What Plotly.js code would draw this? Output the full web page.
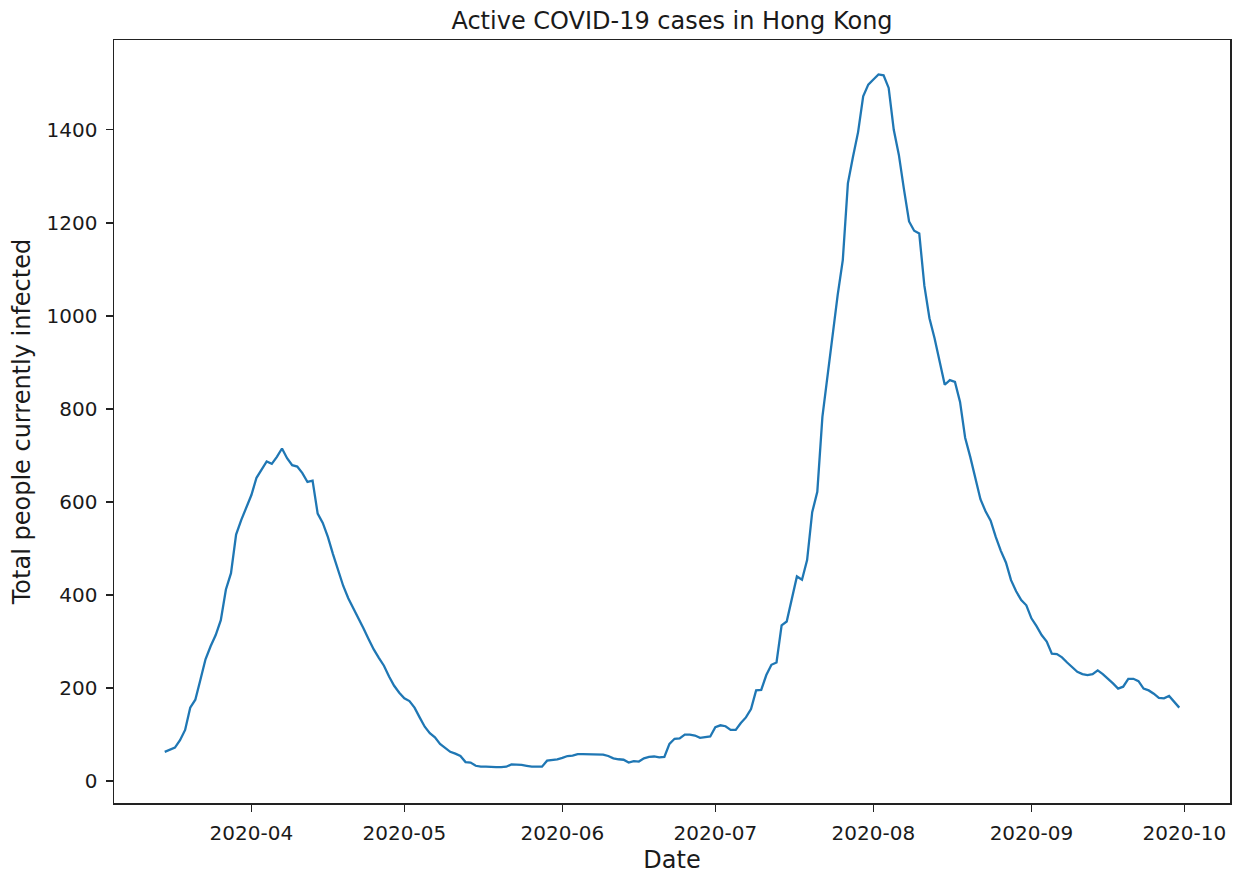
<!DOCTYPE html>
<html>
<head>
<meta charset="utf-8">
<script src="https://cdn.plot.ly/plotly-3.0.1.min.js"></script>
<style>
  html, body { margin: 0; padding: 0; background: #fff; }
  #chart { width: 1236px; height: 874px; }
</style>
</head>
<body>
<div id="chart"></div>
<script>
// Daily active cases, 2020-03-15 .. 2020-09-30
const startDate = "2020-03-15";
const activeCases = [
  63, 67, 72, 88, 110, 158, 175, 218, 262, 290, 314, 346, 412, 447, 530, 561, 588,
  615, 652, 670, 687, 682, 697, 715, 694, 679, 676, 662, 643, 646, 575, 555, 525, 488, 455, 420, 393, 372, 352, 328, 305, 283, 265, 248, 225, 205, 190,
  178, 172, 158, 137, 117, 103, 94, 80, 72, 63, 59, 54, 41, 40, 33, 31, 31, 30, 30, 30, 31, 36, 36, 35, 33, 31, 31, 31, 44, 45, 47,
  50, 54, 55, 58, 58, 58, 58, 58, 57, 54, 49, 47, 46, 40, 43, 42, 49, 52, 53, 51, 52, 80, 91, 92, 100, 100, 98, 93, 95, 96,
  116, 120, 118, 110, 110, 125, 137, 155, 195, 196, 228, 250, 255, 335, 343, 390, 440, 433, 475, 578, 622, 783, 870, 965, 1045, 1120, 1285, 1342, 1395, 1472, 1497,
  1508, 1519, 1517, 1490, 1400, 1346, 1272, 1203, 1183, 1177, 1065, 995, 952, 900, 852, 862, 858, 815, 738, 697, 648, 606, 580, 560, 525, 495, 470, 432, 408, 389, 378,
  350, 333, 314, 300, 274, 273, 266, 255, 245, 235, 230, 228, 230, 238, 230, 221, 210, 199, 203, 220, 220, 215, 199, 195, 188, 179, 178, 183, 170, 158
];
const tickVals = ["2020-04-01", "2020-05-01", "2020-06-01", "2020-07-01", "2020-08-01", "2020-09-01", "2020-10-01"];
const tickText = ["2020-04", "2020-05", "2020-06", "2020-07", "2020-08", "2020-09", "2020-10"];
const yTicks = [0, 200, 400, 600, 800, 1000, 1200, 1400];

function buildDates(start, n) {
  const out = [];
  const d0 = new Date(start + "T00:00:00Z");
  for (let i = 0; i < n; i++) {
    const d = new Date(d0.getTime() + i * 86400000);
    out.push(d.toISOString().slice(0, 10));
  }
  return out;
}
const dates = buildDates(startDate, activeCases.length);

const font = "DejaVu Sans, sans-serif";
const textColor = "#1a1a1a";
const trace = {
  x: dates,
  y: activeCases,
  type: "scatter",
  mode: "lines",
  line: { color: "#1f77b4", width: 2.3 },
  hoverinfo: "x+y"
};

const layout = {
  width: 1236,
  height: 874,
  paper_bgcolor: "#ffffff",
  plot_bgcolor: "#ffffff",
  margin: { l: 114, r: 6, t: 40, b: 71 },
  font: { family: font, color: textColor, size: 20 },
  showlegend: false,
  title: {
    text: "Active COVID-19 cases in Hong Kong",
    font: { family: font, size: 24, color: textColor },
    x: 0.5, xref: "paper",
    y: 1 - 21 / 874, yref: "container", yanchor: "middle"
  },
  xaxis: {
    type: "date",
    range: ["2020-03-05 01:12", "2020-10-09 22:48"],
    tickmode: "array",
    tickvals: tickVals,
    ticktext: tickText,
    ticks: "outside",
    ticklen: 7,
    tickwidth: 1.4,
    tickcolor: "#222",
    ticklabelstandoff: 4,
    tickfont: { family: font, size: 20, color: textColor },
    showgrid: false,
    zeroline: false,
    showline: true,
    linecolor: "#222",
    linewidth: 1.5,
    mirror: true,
    title: { text: "Date", font: { family: font, size: 24, color: textColor }, standoff: 8 }
  },
  yaxis: {
    range: [-47, 1593],
    tickmode: "array",
    tickvals: yTicks,
    ticks: "outside",
    ticklen: 7,
    tickwidth: 1.4,
    tickcolor: "#222",
    ticklabelstandoff: 4,
    tickfont: { family: font, size: 20, color: textColor },
    showgrid: false,
    zeroline: false,
    showline: true,
    linecolor: "#222",
    linewidth: 1.5,
    mirror: true,
    title: { text: "Total people currently infected", font: { family: font, size: 24, color: textColor }, standoff: 9 }
  }
};

Plotly.newPlot("chart", [trace], layout, { displayModeBar: false, staticPlot: true });
</script>
</body>
</html>
